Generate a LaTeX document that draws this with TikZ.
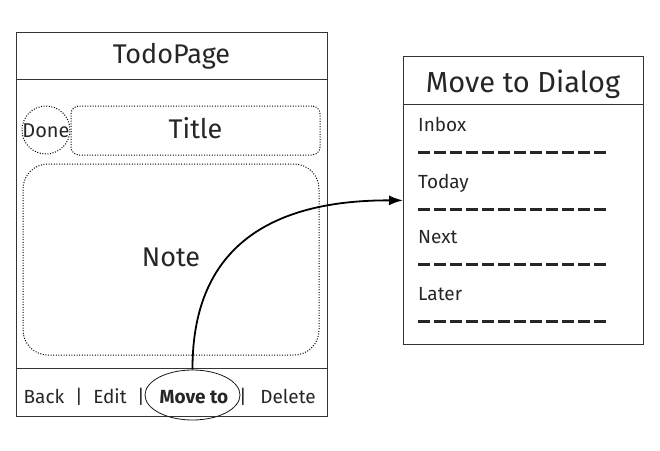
\documentclass[tikz,border=0pt]{standalone}
\usepackage{fontspec}
\setmainfont{Fira Sans}
\usetikzlibrary{arrows.meta,shapes.geometric}
\tikzset{
	frame/.style={draw=black!80, line width=0.8pt},
	field/.style={draw=black, dash pattern=on 1pt off 1.6pt, line width=1pt},
	ink/.style={text=black!85, inner sep=0pt},
	blank/.style={draw=black!85, line width=2.5pt, dash pattern=on 12pt off 4pt},
	big/.style={font=\fontsize{27}{27}\selectfont},
	small/.style={font=\fontsize{19}{19}\selectfont},
}

\begin{document}
\begin{tikzpicture}[x=1pt,y=-1pt]
				\useasboundingbox (0,0) rectangle (660,450);
				
				\node[frame, minimum width=311pt, minimum height=384pt, anchor=north west] (page) at (16,32) {};
				\draw[frame] (16,79) -- (327,79);
				\draw[frame] (16,368) -- (327,368);
				\node[ink, big, anchor=base] (pagetitle) at (171.5,63) {TodoPage};
				
				\node[field, circle, minimum size=48pt, inner sep=0pt] (done) at (46,130) {};
				\node[ink, font=\fontsize{20}{20}\selectfont, anchor=base] (donelabel) at (46,137) {Done};
				\node[field, rounded corners=8pt, minimum width=249pt, minimum height=49pt] (title) at (195.5,130.5) {};
				\node[ink, big, anchor=base] (titlelabel) at (195.5,138) {Title};
				\node[field, rounded corners=25pt, minimum width=296pt, minimum height=191pt] (note) at (171,259.5) {};
				\node[ink, big, anchor=base] (notelabel) at (171,266) {Note};
				
				\node[ink, small, anchor=base] (back) at (44,403) {Back};
				\node[ink, small, anchor=base] (bara) at (79,403) {|};
				\node[ink, small, anchor=base] (edit) at (110,403) {Edit};
				\node[ink, small, anchor=base] (barb) at (141,403) {|};
				\node[ink, small, anchor=base, font=\fontsize{19}{19}\selectfont\bfseries] (movelabel) at (194,403) {Move to};
				\node[ink, small, anchor=base] (barc) at (243,403) {|};
				\node[ink, small, anchor=base] (delete) at (288,403) {Delete};
				\node[draw=black!90, line width=0.8pt, ellipse, minimum width=95pt, minimum height=50pt, inner sep=0pt] (movering) at (192.5,395) {};
				
				\node[frame, minimum width=240pt, minimum height=288pt, anchor=north west] (dialog) at (403,56) {};
				\draw[frame] (403,104) -- (643,104);
				\node[ink, font=\fontsize{29}{29}\selectfont, anchor=base] (dialogtitle) at (523,92) {Move to Dialog};
				\foreach \name/\y in {Inbox/131, Today/188, Next/243, Later/300}{
					\node[ink, small, anchor=base west] (item-\name) at (418,\y) {\name};
					\draw[blank] (418,\y+21.5) -- (606,\y+21.5);
				}
				
				\draw[line width=1.8pt, -{Latex[length=14pt, width=10pt]}] (movering.north) .. controls (192,240) and (280,200) .. (dialog.west);
			\end{tikzpicture}
\end{document}
